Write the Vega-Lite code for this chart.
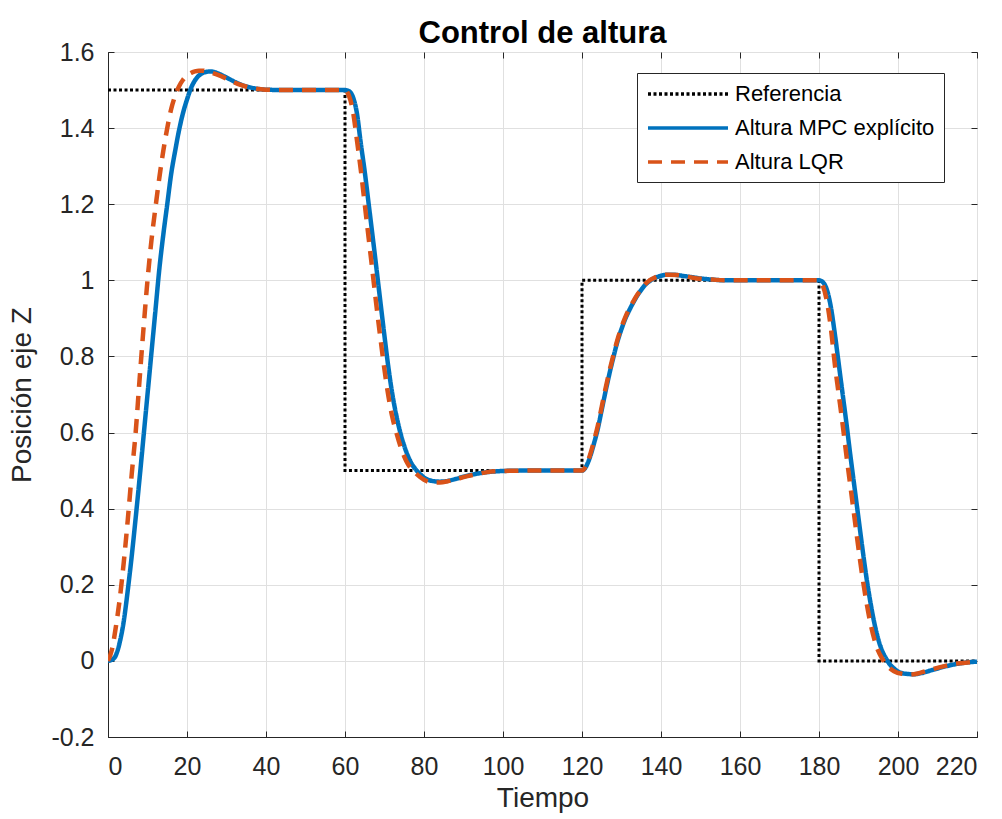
{
"$schema": "https://vega.github.io/schema/vega-lite/v6.json",
"width": 869, "height": 685,
"autosize": {"type": "none"},
"padding": {"left": 108, "top": 52, "right": 25, "bottom": 82},
"background": "white",
"title": {"text": "Control de altura", "font": "Liberation Sans", "fontSize": 31, "fontWeight": "bold", "color": "#000000", "baseline": "alphabetic", "offset": -34},
"config": {
  "view": {"stroke": "#262626", "strokeWidth": 1},
  "axis": {"labelFont": "Liberation Sans", "titleFont": "Liberation Sans", "labelFontSize": 25, "titleFontSize": 28, "titleFontWeight": "normal", "labelColor": "#262626", "titleColor": "#262626", "domainColor": "#262626", "tickColor": "#262626", "gridColor": "#e0e0e0", "gridWidth": 1, "tickSize": -6},
  "legend": {"orient": "none", "legendX": 529, "legendY": 21, "strokeColor": "#262626", "fillColor": "white", "padding": 9, "labelFont": "Liberation Sans", "labelFontSize": 22, "labelColor": "#000000", "symbolStrokeWidth": 3.5, "symbolSize": 400, "rowPadding": 11, "labelLimit": 400}
},
"data": {"values": [
{"s":"Referencia","t":0,"v":1.5},{"s":"Referencia","t":60,"v":0.5},{"s":"Referencia","t":120,"v":1},{"s":"Referencia","t":180,"v":0},{"s":"Referencia","t":220,"v":0},
{"s":"Altura MPC explícito","t":0,"v":0},{"s":"Altura MPC explícito","t":1,"v":0.003},{"s":"Altura MPC explícito","t":2,"v":0.015},{"s":"Altura MPC explícito","t":3,"v":0.05},{"s":"Altura MPC explícito","t":4,"v":0.105},{"s":"Altura MPC explícito","t":5,"v":0.185},{"s":"Altura MPC explícito","t":6,"v":0.275},{"s":"Altura MPC explícito","t":7,"v":0.375},{"s":"Altura MPC explícito","t":8,"v":0.48},{"s":"Altura MPC explícito","t":9,"v":0.59},{"s":"Altura MPC explícito","t":10,"v":0.7},{"s":"Altura MPC explícito","t":11,"v":0.81},{"s":"Altura MPC explícito","t":12,"v":0.92},{"s":"Altura MPC explícito","t":13,"v":1.03},{"s":"Altura MPC explícito","t":14,"v":1.12},{"s":"Altura MPC explícito","t":15,"v":1.2},{"s":"Altura MPC explícito","t":16,"v":1.28},{"s":"Altura MPC explícito","t":17,"v":1.34},{"s":"Altura MPC explícito","t":18,"v":1.395},{"s":"Altura MPC explícito","t":19,"v":1.44},{"s":"Altura MPC explícito","t":20,"v":1.475},{"s":"Altura MPC explícito","t":21,"v":1.505},{"s":"Altura MPC explícito","t":22,"v":1.525},{"s":"Altura MPC explícito","t":23,"v":1.538},{"s":"Altura MPC explícito","t":24,"v":1.545},{"s":"Altura MPC explícito","t":25,"v":1.548},{"s":"Altura MPC explícito","t":26,"v":1.549},{"s":"Altura MPC explícito","t":27,"v":1.547},{"s":"Altura MPC explícito","t":28,"v":1.543},{"s":"Altura MPC explícito","t":30,"v":1.533},{"s":"Altura MPC explícito","t":32,"v":1.522},{"s":"Altura MPC explícito","t":34,"v":1.513},{"s":"Altura MPC explícito","t":36,"v":1.507},{"s":"Altura MPC explícito","t":38,"v":1.503},{"s":"Altura MPC explícito","t":40,"v":1.501},{"s":"Altura MPC explícito","t":45,"v":1.5},{"s":"Altura MPC explícito","t":60,"v":1.5},{"s":"Altura MPC explícito","t":61,"v":1.497},{"s":"Altura MPC explícito","t":62,"v":1.482},{"s":"Altura MPC explícito","t":63,"v":1.44},{"s":"Altura MPC explícito","t":64,"v":1.36},{"s":"Altura MPC explícito","t":65,"v":1.285},{"s":"Altura MPC explícito","t":66,"v":1.2},{"s":"Altura MPC explícito","t":67,"v":1.115},{"s":"Altura MPC explícito","t":68,"v":1.028},{"s":"Altura MPC explícito","t":69,"v":0.94},{"s":"Altura MPC explícito","t":70,"v":0.853},{"s":"Altura MPC explícito","t":71,"v":0.77},{"s":"Altura MPC explícito","t":72,"v":0.7},{"s":"Altura MPC explícito","t":73,"v":0.645},{"s":"Altura MPC explícito","t":74,"v":0.6},{"s":"Altura MPC explícito","t":75,"v":0.565},{"s":"Altura MPC explícito","t":76,"v":0.537},{"s":"Altura MPC explícito","t":77,"v":0.516},{"s":"Altura MPC explícito","t":78,"v":0.502},{"s":"Altura MPC explícito","t":79,"v":0.491},{"s":"Altura MPC explícito","t":80,"v":0.482},{"s":"Altura MPC explícito","t":82,"v":0.473},{"s":"Altura MPC explícito","t":84,"v":0.471},{"s":"Altura MPC explícito","t":86,"v":0.473},{"s":"Altura MPC explícito","t":88,"v":0.478},{"s":"Altura MPC explícito","t":90,"v":0.484},{"s":"Altura MPC explícito","t":93,"v":0.491},{"s":"Altura MPC explícito","t":96,"v":0.496},{"s":"Altura MPC explícito","t":100,"v":0.499},{"s":"Altura MPC explícito","t":105,"v":0.5},{"s":"Altura MPC explícito","t":120,"v":0.5},{"s":"Altura MPC explícito","t":121,"v":0.51},{"s":"Altura MPC explícito","t":122,"v":0.535},{"s":"Altura MPC explícito","t":123,"v":0.57},{"s":"Altura MPC explícito","t":124,"v":0.61},{"s":"Altura MPC explícito","t":125,"v":0.66},{"s":"Altura MPC explícito","t":126,"v":0.71},{"s":"Altura MPC explícito","t":127,"v":0.757},{"s":"Altura MPC explícito","t":128,"v":0.8},{"s":"Altura MPC explícito","t":129,"v":0.84},{"s":"Altura MPC explícito","t":130,"v":0.872},{"s":"Altura MPC explícito","t":131,"v":0.9},{"s":"Altura MPC explícito","t":132,"v":0.922},{"s":"Altura MPC explícito","t":133,"v":0.942},{"s":"Altura MPC explícito","t":134,"v":0.96},{"s":"Altura MPC explícito","t":135,"v":0.975},{"s":"Altura MPC explícito","t":136,"v":0.988},{"s":"Altura MPC explícito","t":137,"v":0.997},{"s":"Altura MPC explícito","t":138,"v":1.004},{"s":"Altura MPC explícito","t":140,"v":1.012},{"s":"Altura MPC explícito","t":142,"v":1.015},{"s":"Altura MPC explícito","t":144,"v":1.014},{"s":"Altura MPC explícito","t":146,"v":1.011},{"s":"Altura MPC explícito","t":148,"v":1.008},{"s":"Altura MPC explícito","t":150,"v":1.005},{"s":"Altura MPC explícito","t":153,"v":1.002},{"s":"Altura MPC explícito","t":156,"v":1.0},{"s":"Altura MPC explícito","t":180,"v":1.0},{"s":"Altura MPC explícito","t":181,"v":0.995},{"s":"Altura MPC explícito","t":182,"v":0.975},{"s":"Altura MPC explícito","t":183,"v":0.93},{"s":"Altura MPC explícito","t":184,"v":0.86},{"s":"Altura MPC explícito","t":185,"v":0.78},{"s":"Altura MPC explícito","t":186,"v":0.7},{"s":"Altura MPC explícito","t":187,"v":0.62},{"s":"Altura MPC explícito","t":188,"v":0.535},{"s":"Altura MPC explícito","t":189,"v":0.455},{"s":"Altura MPC explícito","t":190,"v":0.375},{"s":"Altura MPC explícito","t":191,"v":0.295},{"s":"Altura MPC explícito","t":192,"v":0.22},{"s":"Altura MPC explícito","t":193,"v":0.155},{"s":"Altura MPC explícito","t":194,"v":0.1},{"s":"Altura MPC explícito","t":195,"v":0.057},{"s":"Altura MPC explícito","t":196,"v":0.026},{"s":"Altura MPC explícito","t":197,"v":0.006},{"s":"Altura MPC explícito","t":198,"v":-0.01},{"s":"Altura MPC explícito","t":199,"v":-0.02},{"s":"Altura MPC explícito","t":200,"v":-0.028},{"s":"Altura MPC explícito","t":202,"v":-0.034},{"s":"Altura MPC explícito","t":204,"v":-0.035},{"s":"Altura MPC explícito","t":206,"v":-0.032},{"s":"Altura MPC explícito","t":208,"v":-0.026},{"s":"Altura MPC explícito","t":210,"v":-0.02},{"s":"Altura MPC explícito","t":213,"v":-0.012},{"s":"Altura MPC explícito","t":216,"v":-0.006},{"s":"Altura MPC explícito","t":220,"v":-0.002},
{"s":"Altura LQR","t":0,"v":0},{"s":"Altura LQR","t":1,"v":0.03},{"s":"Altura LQR","t":2,"v":0.09},{"s":"Altura LQR","t":3,"v":0.165},{"s":"Altura LQR","t":4,"v":0.26},{"s":"Altura LQR","t":5,"v":0.37},{"s":"Altura LQR","t":6,"v":0.49},{"s":"Altura LQR","t":7,"v":0.6},{"s":"Altura LQR","t":8,"v":0.74},{"s":"Altura LQR","t":9,"v":0.875},{"s":"Altura LQR","t":10,"v":1.0},{"s":"Altura LQR","t":11,"v":1.105},{"s":"Altura LQR","t":12,"v":1.19},{"s":"Altura LQR","t":13,"v":1.27},{"s":"Altura LQR","t":14,"v":1.34},{"s":"Altura LQR","t":15,"v":1.4},{"s":"Altura LQR","t":16,"v":1.45},{"s":"Altura LQR","t":17,"v":1.485},{"s":"Altura LQR","t":18,"v":1.51},{"s":"Altura LQR","t":19,"v":1.527},{"s":"Altura LQR","t":20,"v":1.538},{"s":"Altura LQR","t":21,"v":1.545},{"s":"Altura LQR","t":22,"v":1.549},{"s":"Altura LQR","t":23,"v":1.551},{"s":"Altura LQR","t":24,"v":1.551},{"s":"Altura LQR","t":25,"v":1.549},{"s":"Altura LQR","t":26,"v":1.546},{"s":"Altura LQR","t":28,"v":1.539},{"s":"Altura LQR","t":30,"v":1.53},{"s":"Altura LQR","t":32,"v":1.52},{"s":"Altura LQR","t":34,"v":1.512},{"s":"Altura LQR","t":36,"v":1.506},{"s":"Altura LQR","t":38,"v":1.503},{"s":"Altura LQR","t":40,"v":1.501},{"s":"Altura LQR","t":45,"v":1.5},{"s":"Altura LQR","t":60,"v":1.5},{"s":"Altura LQR","t":61,"v":1.485},{"s":"Altura LQR","t":62,"v":1.445},{"s":"Altura LQR","t":63,"v":1.37},{"s":"Altura LQR","t":64,"v":1.29},{"s":"Altura LQR","t":65,"v":1.2},{"s":"Altura LQR","t":66,"v":1.11},{"s":"Altura LQR","t":67,"v":1.02},{"s":"Altura LQR","t":68,"v":0.93},{"s":"Altura LQR","t":69,"v":0.845},{"s":"Altura LQR","t":70,"v":0.765},{"s":"Altura LQR","t":71,"v":0.695},{"s":"Altura LQR","t":72,"v":0.64},{"s":"Altura LQR","t":73,"v":0.6},{"s":"Altura LQR","t":74,"v":0.565},{"s":"Altura LQR","t":75,"v":0.537},{"s":"Altura LQR","t":76,"v":0.516},{"s":"Altura LQR","t":77,"v":0.503},{"s":"Altura LQR","t":78,"v":0.492},{"s":"Altura LQR","t":79,"v":0.483},{"s":"Altura LQR","t":80,"v":0.476},{"s":"Altura LQR","t":82,"v":0.469},{"s":"Altura LQR","t":84,"v":0.469},{"s":"Altura LQR","t":86,"v":0.472},{"s":"Altura LQR","t":88,"v":0.477},{"s":"Altura LQR","t":90,"v":0.483},{"s":"Altura LQR","t":93,"v":0.49},{"s":"Altura LQR","t":96,"v":0.496},{"s":"Altura LQR","t":100,"v":0.499},{"s":"Altura LQR","t":105,"v":0.5},{"s":"Altura LQR","t":120,"v":0.5},{"s":"Altura LQR","t":121,"v":0.512},{"s":"Altura LQR","t":122,"v":0.54},{"s":"Altura LQR","t":123,"v":0.577},{"s":"Altura LQR","t":124,"v":0.618},{"s":"Altura LQR","t":125,"v":0.668},{"s":"Altura LQR","t":126,"v":0.718},{"s":"Altura LQR","t":127,"v":0.764},{"s":"Altura LQR","t":128,"v":0.806},{"s":"Altura LQR","t":129,"v":0.845},{"s":"Altura LQR","t":130,"v":0.877},{"s":"Altura LQR","t":131,"v":0.904},{"s":"Altura LQR","t":132,"v":0.926},{"s":"Altura LQR","t":133,"v":0.945},{"s":"Altura LQR","t":134,"v":0.962},{"s":"Altura LQR","t":135,"v":0.977},{"s":"Altura LQR","t":136,"v":0.99},{"s":"Altura LQR","t":137,"v":0.999},{"s":"Altura LQR","t":138,"v":1.005},{"s":"Altura LQR","t":140,"v":1.013},{"s":"Altura LQR","t":142,"v":1.015},{"s":"Altura LQR","t":144,"v":1.014},{"s":"Altura LQR","t":146,"v":1.011},{"s":"Altura LQR","t":148,"v":1.007},{"s":"Altura LQR","t":150,"v":1.004},{"s":"Altura LQR","t":153,"v":1.002},{"s":"Altura LQR","t":156,"v":1.0},{"s":"Altura LQR","t":180,"v":1.0},{"s":"Altura LQR","t":181,"v":0.985},{"s":"Altura LQR","t":182,"v":0.945},{"s":"Altura LQR","t":183,"v":0.875},{"s":"Altura LQR","t":184,"v":0.78},{"s":"Altura LQR","t":185,"v":0.7},{"s":"Altura LQR","t":186,"v":0.62},{"s":"Altura LQR","t":187,"v":0.535},{"s":"Altura LQR","t":188,"v":0.455},{"s":"Altura LQR","t":189,"v":0.375},{"s":"Altura LQR","t":190,"v":0.295},{"s":"Altura LQR","t":191,"v":0.22},{"s":"Altura LQR","t":192,"v":0.155},{"s":"Altura LQR","t":193,"v":0.1},{"s":"Altura LQR","t":194,"v":0.057},{"s":"Altura LQR","t":195,"v":0.026},{"s":"Altura LQR","t":196,"v":0.006},{"s":"Altura LQR","t":197,"v":-0.01},{"s":"Altura LQR","t":198,"v":-0.02},{"s":"Altura LQR","t":199,"v":-0.027},{"s":"Altura LQR","t":201,"v":-0.034},{"s":"Altura LQR","t":203,"v":-0.036},{"s":"Altura LQR","t":205,"v":-0.033},{"s":"Altura LQR","t":207,"v":-0.027},{"s":"Altura LQR","t":209,"v":-0.021},{"s":"Altura LQR","t":212,"v":-0.013},{"s":"Altura LQR","t":215,"v":-0.007},{"s":"Altura LQR","t":220,"v":-0.002}
]},
"encoding": {
  "color": {"field": "s", "type": "nominal", "scale": {"domain": ["Referencia", "Altura MPC explícito", "Altura LQR"], "range": ["#000000", "#0072BD", "#D95319"]}, "legend": {"title": null, "symbolType": "M-7,0H1", "symbolOffset": 60, "labelOffset": 5}},
  "strokeDash": {"field": "s", "type": "nominal", "scale": {"domain": ["Referencia", "Altura MPC explícito", "Altura LQR"], "range": [[3, 2.5], [1, 0], [14, 9]]}, "legend": {"title": null, "symbolType": "M-7,0H1", "symbolOffset": 60, "labelOffset": 5}}
},
"resolve": {"axis": {"x": "independent", "y": "independent"}},
"layer": [
  {"transform": [{"filter": "datum.s === 'Referencia'"}],
   "mark": {"type": "line", "interpolate": "step-after", "strokeWidth": 3, "clip": true},
   "encoding": {
     "x": {"field": "t", "type": "quantitative", "scale": {"domain": [0, 220], "nice": false}, "axis": {"orient": "bottom", "title": "Tiempo", "values": [0,20,40,60,80,100,120,140,160,180,200,220], "labelPadding": 23, "titlePadding": 5}},
     "y": {"field": "v", "type": "quantitative", "scale": {"domain": [-0.2, 1.6], "nice": false}, "axis": {"orient": "left", "title": "Posición eje Z", "values": [-0.2,0,0.2,0.4,0.6,0.8,1,1.2,1.4,1.6], "labelExpr": "replace(format(datum.value, '~g'), '−', '-')", "labelPadding": 20, "titlePadding": 14}}
   }},
  {"transform": [{"filter": "datum.s === 'Altura MPC explícito'"}],
   "mark": {"type": "line", "interpolate": "monotone", "strokeWidth": 4.5, "clip": true},
   "encoding": {
     "x": {"field": "t", "type": "quantitative", "scale": {"domain": [0, 220], "nice": false}, "axis": {"orient": "top", "title": null, "labels": false, "grid": false, "domain": false, "values": [0,20,40,60,80,100,120,140,160,180,200,220]}},
     "y": {"field": "v", "type": "quantitative", "scale": {"domain": [-0.2, 1.6], "nice": false}, "axis": {"orient": "right", "title": null, "labels": false, "grid": false, "domain": false, "values": [-0.2,0,0.2,0.4,0.6,0.8,1,1.2,1.4,1.6]}}
   }},
  {"transform": [{"filter": "datum.s === 'Altura LQR'"}],
   "mark": {"type": "line", "interpolate": "monotone", "strokeWidth": 4.5, "clip": true},
   "encoding": {
     "x": {"field": "t", "type": "quantitative", "scale": {"domain": [0, 220], "nice": false}, "axis": null},
     "y": {"field": "v", "type": "quantitative", "scale": {"domain": [-0.2, 1.6], "nice": false}, "axis": null}
   }}
]
}
